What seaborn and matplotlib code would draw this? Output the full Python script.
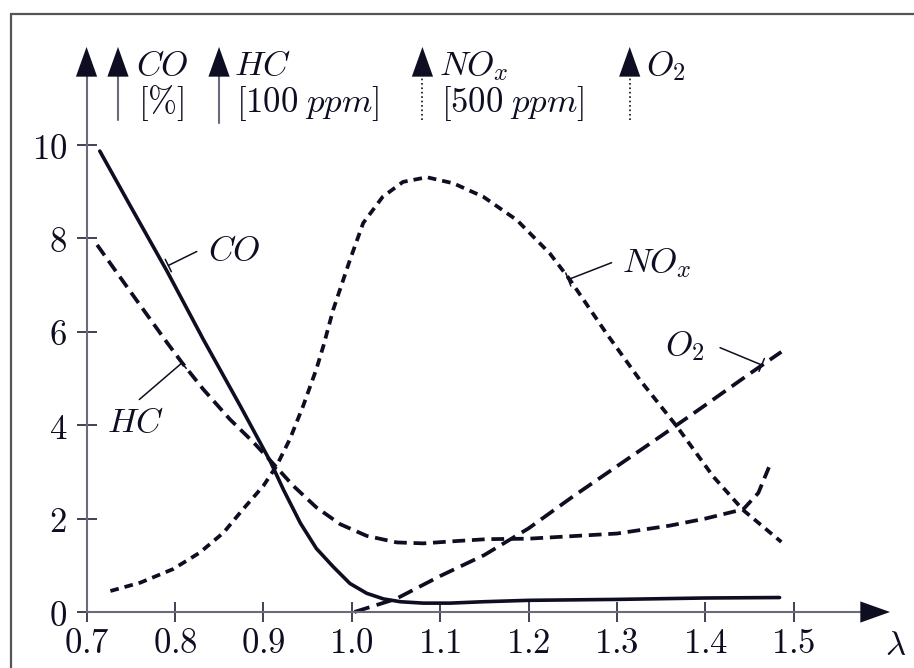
import numpy as np
import pandas as pd
import matplotlib
matplotlib.use("Agg")
import matplotlib.pyplot as plt
import seaborn as sns
from matplotlib.patches import Rectangle

# ---------------- data ----------------
co_x = [0.715, 0.75, 0.791, 0.832, 0.874, 0.908, 0.923, 0.942, 0.960, 0.979, 0.998, 1.017,
        1.036, 1.055, 1.081, 1.111, 1.149, 1.2, 1.3, 1.4, 1.484]
co_y = [9.87, 8.68, 7.3, 5.84, 4.41, 3.22, 2.61, 1.90, 1.36, 0.97, 0.61, 0.40,
        0.28, 0.22, 0.19, 0.19, 0.22, 0.25, 0.27, 0.3, 0.31]

hc_x = [0.712, 0.75, 0.791, 0.808, 0.832, 0.862, 0.889, 0.910, 0.934, 0.960, 0.987, 1.017,
        1.051, 1.081, 1.119, 1.153, 1.2, 1.3, 1.36, 1.4, 1.443, 1.46, 1.472]
hc_y = [7.86, 6.85, 5.77, 5.34, 4.77, 4.13, 3.63, 3.2, 2.7, 2.24, 1.88, 1.63,
        1.49, 1.47, 1.52, 1.56, 1.57, 1.68, 1.85, 2.0, 2.2, 2.55, 3.1]

nox_x = [0.727, 0.761, 0.798, 0.828, 0.855, 0.877, 0.900, 0.915, 0.930, 0.945, 0.960, 0.968,
         0.979, 0.998, 1.013, 1.035, 1.058, 1.085, 1.115, 1.149, 1.187, 1.224, 1.247, 1.288,
         1.326, 1.368, 1.409, 1.443, 1.486]
nox_y = [0.45, 0.63, 0.92, 1.27, 1.70, 2.20, 2.70, 3.13, 3.70, 4.41, 5.20, 5.70,
         6.47, 7.54, 8.33, 8.89, 9.21, 9.31, 9.18, 8.89, 8.39, 7.68, 7.11, 5.97,
         4.97, 3.97, 2.9, 2.18, 1.5]

o2_x = [1.003, 1.05, 1.1, 1.15, 1.2, 1.25, 1.3, 1.35, 1.4, 1.45, 1.486]
o2_y = [0.0, 0.28, 0.77, 1.22, 1.79, 2.47, 3.12, 3.77, 4.43, 5.1, 5.57]

x_ticks = [0.7, 0.8, 0.9, 1.0, 1.1, 1.2, 1.3, 1.4, 1.5]
x_tick_labels = ["0.7", "0.8", "0.9", "1.0", "1.1", "1.2", "1.3", "1.4", "1.5"]
y_ticks = [0, 2, 4, 6, 8, 10]
y_tick_labels = ["0", "2", "4", "6", "8", "10"]

series_names = ["CO", "HC", "NOx", "O2"]
unit_labels = [r"$[\%]$", r"$[100\;ppm]$", r"$[500\;ppm]$", ""]
head_labels = [r"$CO$", r"$HC$", r"$NO_x$", r"$O_2$"]

# ---------------- style ----------------
sns.set_theme(style="ticks")
plt.rcParams["mathtext.fontset"] = "cm"
plt.rcParams["font.family"] = ["DejaVu Serif"]

ink = "#0e0e22"
axis_col = "#6a6a7a"
FS = 25

fig = plt.figure(figsize=(9.14, 6.68), dpi=100)
ax = fig.add_axes([0, 0, 1, 1])
ax.set_xlim(0.6021, 1.6361)
ax.set_ylim(-1.199, 13.105)
ax.patch.set_alpha(0)

lw = 2.7
sns.lineplot(x=co_x, y=co_y, ax=ax, color=ink, lw=2.6, sort=False, clip_on=False)
sns.lineplot(x=hc_x, y=hc_y, ax=ax, color=ink, lw=lw, sort=False,
             linestyle=(0, (3.4, 1.8)), clip_on=False)
sns.lineplot(x=nox_x, y=nox_y, ax=ax, color=ink, lw=lw, sort=False,
             linestyle=(0, (2.3, 1.6)), clip_on=False)
sns.lineplot(x=o2_x, y=o2_y, ax=ax, color=ink, lw=lw, sort=False,
             linestyle=(0, (4.2, 2.0)), clip_on=False)

# ---------------- axes ----------------
for s in ["top", "right"]:
    ax.spines[s].set_visible(False)
ax.spines["left"].set_position(("data", 0.7))
ax.spines["bottom"].set_position(("data", 0))
ax.spines["left"].set_bounds(0, 11.8)
ax.spines["bottom"].set_bounds(0.7, 1.585)
for s in ["left", "bottom"]:
    ax.spines[s].set_color(axis_col)
    ax.spines[s].set_linewidth(1.5)

ax.set_xticks(x_ticks)
ax.set_xticklabels([f"${t}$" for t in x_tick_labels])
ax.set_yticks(y_ticks)
ax.set_yticklabels([f"${t}$" for t in y_tick_labels])
ax.tick_params(axis="both", direction="inout", length=14, width=1.3,
               color="#33334a", labelsize=FS, labelcolor=ink, bottom=True, left=True)
ax.tick_params(axis="x", pad=3)
ax.tick_params(axis="y", pad=7)
ax.set_xlabel("")
ax.set_ylabel("")


def head(x, y, vertical=True):
    if vertical:
        start = (x, y - 1.2)
    else:
        start = (x - 0.05, y)
    ax.annotate("", xy=(x, y), xytext=start,
                arrowprops=dict(arrowstyle="-|>,head_length=1.0,head_width=0.357",
                                mutation_scale=21.4, color=ink, lw=0,
                                shrinkA=0, shrinkB=0),
                annotation_clip=False)


# axis arrows
head(0.7, 12.1)
head(1.609, 0.0, vertical=False)

# legend-like arrows on top
arrow_x = [0.7356, 0.8499, 1.0800, 1.3145]
arrow_bottom = [10.53, 10.47, 10.53, 10.53]
arrow_style = ["-", "-", ":", ":"]
label_left = [0.756, 0.8669, 1.0988, 1.3329]
for xa, yb, st in zip(arrow_x, arrow_bottom, arrow_style):
    ax.plot([xa, xa], [yb, 11.6], color=axis_col if st == "-" else ink,
            lw=1.5 if st == "-" else 1.2, linestyle=st, clip_on=False)
    head(xa, 12.1)
for xl, hl, ul in zip(label_left, head_labels, unit_labels):
    ax.text(xl, 11.5, hl, fontsize=FS, color=ink, ha="left", va="baseline")
    if ul:
        ax.text(xl + 0.002, 10.71, ul, fontsize=FS, color=ink, ha="left", va="baseline")

# curve labels with leader lines
lab_pos = [(0.8378, 7.54), (0.7229, 3.86), (1.3054, 7.28), (1.3544, 5.50)]
leader_from = [(0.8247, 7.72), (0.7597, 4.55), (1.294, 7.48), (1.4167, 5.66)]
leader_to = [(0.7925, 7.42), (0.8077, 5.33), (1.245, 7.12), (1.4638, 5.29)]
for (lx, ly), hl, a, b in zip(lab_pos, head_labels, leader_from, leader_to):
    ax.text(lx, ly, hl, fontsize=FS, color=ink, ha="left", va="baseline")
    ax.annotate("", xy=b, xytext=a,
                arrowprops=dict(arrowstyle="-[,widthB=0.25,lengthB=0", mutation_scale=20,
                                lw=1.1, color=ink, shrinkA=0, shrinkB=0))

ax.text(1.6032, -0.92, r"$\lambda$", fontsize=FS, color=ink, ha="left", va="baseline")

# outer frame (only top and left visible)
fig.add_artist(Rectangle((11 / 914, -0.5), 2.0, 1 - 14 / 668 + 0.5,
                         transform=fig.transFigure, fill=False, ec="#555555", lw=1.6))

fig.savefig("out.png", dpi=100)
